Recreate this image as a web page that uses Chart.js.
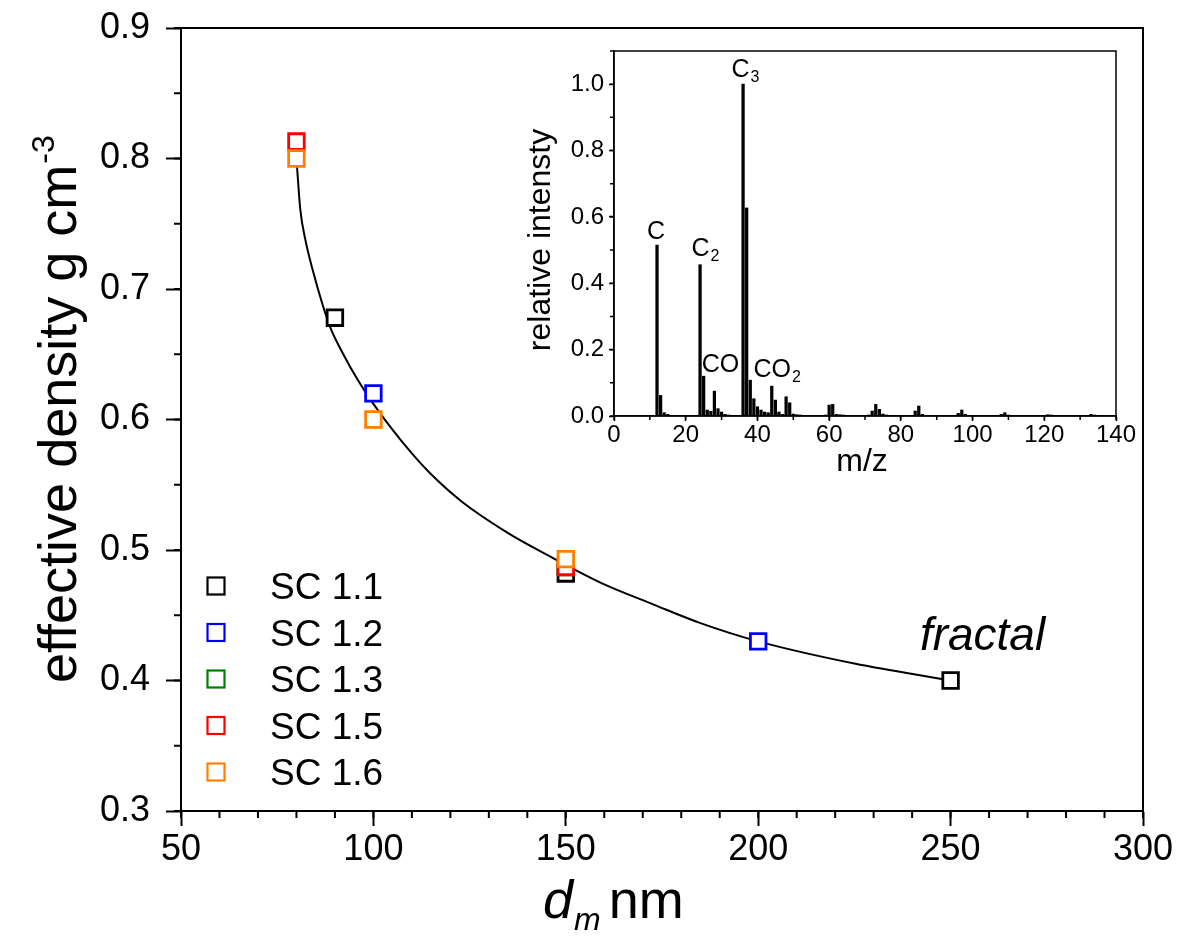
<!DOCTYPE html>
<html>
<head>
<meta charset="utf-8">
<script src="https://cdn.jsdelivr.net/npm/chart.js@4.4.1/dist/chart.umd.min.js"></script>
<style>
  html, body { margin: 0; padding: 0; background: #fff; }
  #wrap  { position: relative; width: 1178px; height: 948px; }
  #main  { position: absolute; left: 0; top: 0; }
  #inset { position: absolute; left: 520px; top: 36px; }
</style>
</head>
<body>
<div id="wrap">
  <canvas id="main" width="1178" height="948"></canvas>
  <canvas id="inset" width="620" height="450"></canvas>
</div>
<script>
const FONT = "'Liberation Sans', Arial, sans-serif";

// effective density vs mobility diameter, per sample
const sc11X = [90, 150, 250];
const sc11Y = [0.678, 0.482, 0.400];
const sc12X = [100, 200];
const sc12Y = [0.620, 0.430];
const sc13X = [150];
const sc13Y = [0.487];
const sc15X = [80, 150];
const sc15Y = [0.813, 0.487];
const sc16X = [80, 100, 150];
const sc16Y = [0.800, 0.600, 0.493];

// fractal fit curve
const fitX = [80, 81, 82.3, 84, 87, 89, 92, 96, 100, 105, 110, 115, 123, 135, 146, 159, 173, 185, 200, 225, 250];
const fitY = [0.800, 0.761, 0.738, 0.717, 0.686, 0.669, 0.651, 0.630, 0.612, 0.592, 0.574, 0.558, 0.537, 0.513, 0.495, 0.475, 0.458, 0.444, 0.430, 0.413, 0.400];

const mainXTicks = [50, 100, 150, 200, 250, 300];
const mainYTicks = [0.3, 0.4, 0.5, 0.6, 0.7, 0.8, 0.9];

// inset mass spectrum
const mz = [12, 13, 14, 15, 16, 24, 25, 26, 27, 28, 29, 30, 31, 32, 33, 34, 35,
            36, 37, 38, 39, 40, 41, 42, 43, 44, 45, 46, 47, 48, 49, 50, 51, 52,
            53, 54, 55, 56, 57, 58, 59, 60, 61, 62, 63, 64, 65, 70, 71, 72, 73,
            74, 75, 76, 77, 83, 84, 85, 86, 87, 96, 97, 98, 108, 109, 110, 121, 122, 133, 134];
const intensity = [0.515, 0.062, 0.010, 0.005, 0.002, 0.456, 0.120, 0.018, 0.014, 0.075, 0.022, 0.012, 0.005, 0.003, 0.002, 0.002, 0.002,
                   1.000, 0.627, 0.108, 0.052, 0.028, 0.018, 0.012, 0.010, 0.090, 0.048, 0.012, 0.005, 0.058, 0.040, 0.006, 0.004, 0.003,
                   0.002, 0.002, 0.002, 0.002, 0.002, 0.002, 0.003, 0.033, 0.035, 0.005, 0.004, 0.003, 0.002, 0.002, 0.003, 0.015, 0.035,
                   0.020, 0.006, 0.003, 0.002, 0.002, 0.015, 0.030, 0.005, 0.002, 0.008, 0.018, 0.005, 0.005, 0.010, 0.003, 0.004, 0.003, 0.005, 0.003];
const insetXTicks = [0, 20, 40, 60, 80, 100, 120, 140];
const insetYTicks = [0, 0.2, 0.4, 0.6, 0.8, 1.0];

const peakLabels = [
  { text: 'C',  sub: '',  x: 11.7, y: 0.533 },
  { text: 'C',  sub: '2', x: 24.1, y: 0.483 },
  { text: 'C',  sub: '3', x: 35.3, y: 1.023 },
  { text: 'CO', sub: '',  x: 29.7, y: 0.133 },
  { text: 'CO', sub: '2', x: 44.1, y: 0.118 }
];

const pts = (xs, ys) => xs.map((x, i) => ({ x, y: ys[i] }));

function marker(label, xs, ys, color, order) {
  return {
    label, data: pts(xs, ys), order,
    pointStyle: 'rect', pointRadius: 11, pointBorderWidth: 2.8,
    pointBorderColor: color, pointBackgroundColor: '#fff',
    borderColor: color, showLine: false
  };
}

const minorTicks = {
  id: 'minorTicks',
  afterDraw(chart, args, opts) {
    const { ctx } = chart;
    const xs = chart.scales.x, ys = chart.scales.y;
    ctx.save();
    ctx.strokeStyle = '#000';
    ctx.lineWidth = opts.width;
    ctx.beginPath();
    for (let v = xs.min; v <= xs.max + 1e-9; v += opts.x) {
      const p = xs.getPixelForValue(v);
      ctx.moveTo(p, xs.top); ctx.lineTo(p, xs.top + opts.len);
    }
    for (let v = ys.min; v <= ys.max + 1e-9; v += opts.y) {
      const p = ys.getPixelForValue(v);
      ctx.moveTo(ys.right, p); ctx.lineTo(ys.right - opts.len, p);
    }
    ctx.stroke();
    ctx.restore();
  }
};

const frame = {
  id: 'frame',
  afterDraw(chart, args, opts) {
    const { ctx, chartArea: a } = chart;
    ctx.save();
    ctx.strokeStyle = '#000';
    ctx.lineWidth = opts.width;
    ctx.strokeRect(a.left, a.top, a.right - a.left, a.bottom - a.top);
    ctx.restore();
  }
};

const mainText = {
  id: 'mainText',
  afterDraw(chart) {
    const { ctx } = chart;
    ctx.save();
    ctx.fillStyle = '#000';

    // y title
    ctx.save();
    ctx.translate(76, 683);
    ctx.rotate(-Math.PI / 2);
    ctx.textAlign = 'left';
    ctx.textBaseline = 'alphabetic';
    ctx.font = `54px ${FONT}`;
    const yt = 'effective density g cm';
    ctx.fillText(yt, 0, 0);
    const w = ctx.measureText(yt).width;
    ctx.font = `32px ${FONT}`;
    ctx.fillText('-3', w + 1, -22);
    ctx.restore();

    // x title
    ctx.textAlign = 'left';
    ctx.textBaseline = 'alphabetic';
    let x = 543;
    ctx.font = `italic 54px ${FONT}`;
    ctx.fillText('d', x, 918);
    x += ctx.measureText('d').width + 1;
    ctx.font = `italic 32px ${FONT}`;
    ctx.fillText('m', x, 930);
    x += ctx.measureText('m').width + 8;
    ctx.font = `54px ${FONT}`;
    ctx.fillText('nm', x, 918);

    // legend
    chart.data.datasets.filter(d => !d.isFit).forEach((d, i) => {
      const y = 586 + i * 46.5;
      ctx.strokeStyle = d.borderColor;
      ctx.lineWidth = 2.2;
      ctx.strokeRect(207.5, y - 8.5, 17, 17);
      ctx.font = `37px ${FONT}`;
      ctx.fillText(d.label, 270, y + 13);
    });

    // fractal label
    ctx.textAlign = 'center';
    ctx.font = `italic 46px ${FONT}`;
    ctx.fillText('fractal', chart.scales.x.getPixelForValue(258.3), chart.scales.y.getPixelForValue(0.4234));
    ctx.restore();
  }
};

const insetText = {
  id: 'insetText',
  afterDraw(chart) {
    const { ctx } = chart;
    const xs = chart.scales.x, ys = chart.scales.y;
    ctx.save();
    ctx.fillStyle = '#000';

    ctx.save();
    ctx.translate(30, 204);
    ctx.rotate(-Math.PI / 2);
    ctx.textAlign = 'center';
    ctx.font = `32px ${FONT}`;
    ctx.fillText('relative intensty', 0, 0);
    ctx.restore();

    ctx.textAlign = 'center';
    ctx.font = `32px ${FONT}`;
    ctx.fillText('m/z', 342, 435);

    peakLabels.forEach(l => {
      const px = xs.getPixelForValue(l.x), py = ys.getPixelForValue(l.y);
      ctx.font = `25px ${FONT}`;
      ctx.textAlign = 'center';
      ctx.fillText(l.text, px, py);
      if (l.sub) {
        const w = ctx.measureText(l.text).width;
        ctx.font = `16px ${FONT}`;
        ctx.textAlign = 'left';
        ctx.fillText(l.sub, px + w / 2 + 1, py + 5);
      }
    });
    ctx.restore();
  }
};

function axis(min, max, ticks, fmt, size, fontSize, tickLen, lineW, pad, isX) {
  return {
    type: 'linear', min, max, offset: false,
    afterFit: s => {
      if (isX) { s.height = size; s.paddingLeft = 0; s.paddingRight = 0; }
      else { s.width = size; s.paddingTop = 0; s.paddingBottom = 0; }
    },
    afterBuildTicks: s => { s.ticks = ticks.map(v => ({ value: v })); },
    grid: { drawOnChartArea: false, offset: false, tickLength: tickLen, tickWidth: lineW, tickColor: '#000' },
    border: { color: '#000', width: lineW },
    ticks: { font: { family: FONT, size: fontSize }, color: '#000', padding: pad,
             maxRotation: 0, autoSkip: false, callback: fmt }
  };
}

new Chart(document.getElementById('main'), {
  type: 'scatter',
  data: {
    datasets: [
      { label: 'fit', isFit: true, data: pts(fitX, fitY), showLine: true, order: 6,
        borderColor: '#000', borderWidth: 2, pointRadius: 0, cubicInterpolationMode: 'monotone' },
      marker('SC 1.1', sc11X, sc11Y, '#000000', 5),
      marker('SC 1.2', sc12X, sc12Y, '#0000ff', 4),
      marker('SC 1.3', sc13X, sc13Y, '#008000', 3),
      marker('SC 1.5', sc15X, sc15Y, '#ff0000', 2),
      marker('SC 1.6', sc16X, sc16Y, '#ff8000', 1)
    ]
  },
  options: {
    responsive: false, animation: false, devicePixelRatio: 1,
    layout: { padding: { top: 28, right: 35, left: 0, bottom: 0 } },
    plugins: {
      legend: { display: false }, tooltip: { enabled: false },
      minorTicks: { x: 10, y: 0.05, len: 7, width: 2 },
      frame: { width: 2 }
    },
    scales: {
      x: axis(50, 300, mainXTicks, v => String(v), 137, 36, 15, 2, 2, true),
      y: axis(0.3, 0.9, mainYTicks, v => v.toFixed(1), 181, 36, 15, 2, 16, false)
    }
  },
  plugins: [minorTicks, frame, mainText]
});

new Chart(document.getElementById('inset'), {
  type: 'bar',
  data: {
    datasets: [{ data: pts(mz, intensity), backgroundColor: '#000', borderWidth: 0, barThickness: 2.6 }]
  },
  options: {
    responsive: false, animation: false, devicePixelRatio: 1,
    layout: { padding: { top: 15, right: 24, left: 0, bottom: 0 } },
    plugins: {
      legend: { display: false }, tooltip: { enabled: false },
      minorTicks: { x: 10, y: 0.1, len: 4, width: 1.5 },
      frame: { width: 1.5 }
    },
    scales: {
      x: axis(0, 140, insetXTicks, v => String(v), 70, 24, 5, 1.5, 0, true),
      y: axis(0, 1.1, insetYTicks, v => v.toFixed(1), 94, 24, 5, 1.5, 5, false)
    }
  },
  plugins: [minorTicks, frame, insetText]
});
</script>
</body>
</html>
